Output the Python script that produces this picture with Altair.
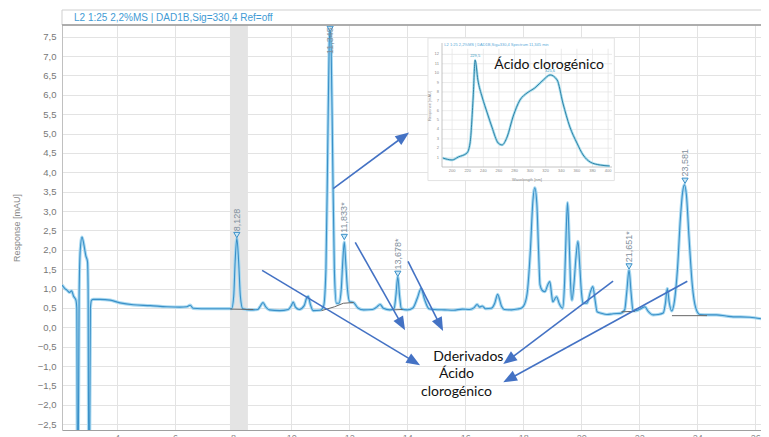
import math
import altair as alt
import pandas as pd

# ---------------- chromatogram trace (time in min, response in mAU) ----------------
time_min = [2.10, 2.20, 2.27, 2.36, 2.43, 2.50, 2.58, 2.61, 2.63, 2.66, 2.69, 2.73, 2.79, 2.85, 2.92,
            2.98, 3.00, 3.02, 3.05, 3.08, 3.12, 3.18, 3.41, 3.76, 4.10, 4.56, 5.14, 5.71, 6.17, 6.40,
            6.52, 6.62, 6.90, 7.32, 7.89, 7.95, 8.02, 8.07, 8.128, 8.19, 8.25, 8.33, 8.60, 8.85, 8.95,
            9.03, 9.12, 9.25, 9.60, 9.90, 10.00, 10.07, 10.15, 10.28, 10.45, 10.53, 10.59, 10.66, 10.76,
            11.00, 11.12, 11.20, 11.26, 11.31, 11.345, 11.38, 11.43, 11.49, 11.56, 11.65, 11.73, 11.78,
            11.833, 11.88, 11.94, 12.02, 12.15, 12.30, 12.50, 12.80, 12.95, 13.07, 13.18, 13.40, 13.55,
            13.61, 13.678, 13.74, 13.80, 14.00, 14.20, 14.35, 14.48, 14.60, 14.75, 14.95, 15.30, 15.60,
            15.90, 16.15, 16.30, 16.41, 16.50, 16.59, 16.70, 16.90, 17.02, 17.12, 17.25, 17.35, 17.60,
            17.80, 17.95, 18.05, 18.15, 18.25, 18.33, 18.40, 18.47, 18.53, 18.58, 18.66, 18.75, 18.85,
            18.92, 18.98, 19.02, 19.15, 19.25, 19.36, 19.43, 19.48, 19.53, 19.58, 19.63, 19.68, 19.75,
            19.82, 19.89, 19.95, 20.01, 20.06, 20.20, 20.32, 20.40, 20.48, 20.55, 20.70, 20.89, 21.10,
            21.35, 21.50, 21.57, 21.651, 21.72, 21.79, 21.95, 22.10, 22.20, 22.30, 22.48, 22.65, 22.83,
            22.90, 22.97, 23.04, 23.12, 23.22, 23.32, 23.42, 23.50, 23.56, 23.63, 23.72, 23.83, 23.95,
            24.09, 24.40, 24.67, 25.00, 25.24, 25.50, 25.82, 26.20]
response_mau = [1.09, 1.00, 0.96, 0.90, 0.94, 0.80, 0.70, 0.50, -3.30, -3.30, 0.80, 2.00, 2.33, 2.15, 1.85,
                1.69, 1.00, -3.30, -3.30, 0.50, 0.70, 0.72, 0.72, 0.70, 0.63, 0.58, 0.56, 0.53, 0.52, 0.53,
                0.57, 0.49, 0.48, 0.48, 0.48, 0.48, 0.80, 1.70, 2.30, 1.70, 0.80, 0.48, 0.45, 0.46, 0.56,
                0.64, 0.53, 0.45, 0.43, 0.46, 0.55, 0.65, 0.52, 0.46, 0.56, 0.75, 0.80, 0.60, 0.43,
                0.44, 0.55, 1.50, 4.50, 7.20, 7.75, 7.20, 4.50, 1.50, 0.62, 0.62, 1.00, 1.70,
                2.20, 1.70, 1.00, 0.66, 0.64, 0.50, 0.45, 0.46, 0.52, 0.59, 0.49, 0.45, 0.48,
                0.80, 1.30, 0.80, 0.48, 0.45, 0.50, 0.75, 1.00, 0.72, 0.48, 0.46, 0.45, 0.44,
                0.47, 0.46, 0.50, 0.59, 0.52, 0.55, 0.48, 0.49, 0.62, 0.85, 0.55, 0.46, 0.45,
                0.47, 0.50, 0.60, 0.95, 2.00, 3.20, 3.60, 3.20, 2.00, 1.10, 0.95, 0.92, 1.10,
                1.18, 0.85, 0.66, 0.79, 0.60, 0.49, 1.20, 2.40, 3.22, 2.40, 1.20, 0.70, 1.10,
                1.80, 2.22, 1.60, 0.90, 0.62, 0.62, 0.92, 1.05, 0.70, 0.40, 0.36, 0.33, 0.35,
                0.36, 0.45, 0.90, 1.48, 0.90, 0.42, 0.44, 0.50, 0.53, 0.42, 0.32, 0.33, 0.37,
                0.60, 1.00, 0.62, 0.42, 0.70, 1.50, 2.80, 3.50, 3.68, 3.40, 2.30, 1.10, 0.50,
                0.33, 0.32, 0.32, 0.29, 0.27, 0.27, 0.26, 0.22]

# labelled peaks
peak_rt = [8.128, 11.345, 11.833, 13.678, 21.651, 23.581]
peak_text = ["8,128", "11,345", "11,833*", "13,678*", "21,651*", "23,581"]
peak_marker = [2.38, 7.70, 2.33, 1.38, 1.57, 3.78]
peak_text_at = [2.48, 7.05, 2.44, 1.49, 1.68, 3.89]

# integration baselines
base_id = [1, 1, 2, 2, 2, 2, 3, 3, 4, 4, 5, 5]
base_t = [7.90, 8.70, 11.05, 11.50, 11.80, 12.15, 13.55, 13.85, 21.39, 21.85, 23.13, 24.34]
base_r = [0.47, 0.46, 0.43, 0.53, 0.62, 0.64, 0.45, 0.46, 0.40, 0.41, 0.30, 0.30]

# highlighted time window
band_from = [7.89]
band_to = [8.51]

# annotation arrows (start -> tip)
arrow_t0 = [11.45, 9.00, 12.21, 14.03, 21.10, 23.66]
arrow_r0 = [3.58, 1.47, 2.19, 1.70, 1.19, 1.19]
arrow_t1 = [14.07, 14.45, 13.93, 15.24, 17.31, 17.31]
arrow_r1 = [5.03, -0.98, -0.08, -0.10, -0.95, -1.42]

note_text = ["Dderivados", "Ácido", "clorogénico"]
note_t = [16.11, 15.70, 15.70]
note_r = [-0.77, -1.21, -1.67]

header_text = "L2 1:25 2,2%MS | DAD1B,Sig=330,4  Ref=off"

x_ticks = [4, 6, 8, 10, 12, 14, 16, 18, 20, 22, 24, 26]
y_ticks = [-2.5, -2.0, -1.5, -1.0, -0.5, 0.0, 0.5, 1.0, 1.5, 2.0, 2.5, 3.0, 3.5, 4.0, 4.5, 5.0,
           5.5, 6.0, 6.5, 7.0, 7.5]

# ---------------- inset: UV spectrum ----------------
wl_nm = [188, 200, 208, 219, 223, 227, 229.5, 233, 238.5, 245, 251, 259, 264, 270.5, 278, 287,
         296, 306, 317, 325.6, 334.6, 342, 351, 360, 368, 377, 390, 402]
absorb = [0.96, 0.75, 1.07, 1.49, 2.56, 7.46, 11.40, 9.28, 7.46, 5.76, 4.26, 2.56, 2.35, 3.20, 5.33,
          7.14, 7.89, 8.42, 9.28, 9.81, 9.28, 6.82, 4.26, 2.56, 1.28, 0.53, 0.21, 0.11]
inset_x_ticks = [200, 220, 240, 260, 280, 300, 320, 340, 360, 380, 400]
inset_y_ticks = [1, 2, 3, 4, 5, 6, 7, 8, 9, 10, 11, 12]
inset_title = "Ácido clorogénico"
inset_header = "L2 1:25 2,2%MS | DAD1B,Sig=330,4 Spectrum 11,345 min"
inset_peak_nm = [229.5, 325.6]
inset_peak_a = [11.40, 9.81]
inset_peak_txt = ["229,5", "325,6"]

# ---------------- layout constants ----------------
W, H = 699, 405
T_MIN, T_MAX = 2.1, 26.2
R_MIN, R_MAX = -2.65, 7.8
PX_T = W / (T_MAX - T_MIN)
PX_R = H / (R_MAX - R_MIN)

FONT = "Liberation Sans"
ARROW = "#4472c4"

xs = alt.Scale(domain=[T_MIN, T_MAX], nice=False, zero=False)
ys = alt.Scale(domain=[R_MIN, R_MAX], nice=False, zero=False)

x_axis = alt.Axis(values=x_ticks, grid=True, gridColor="#e3e3e3", ticks=False, labelPadding=3,
                  labelFontSize=9, labelColor="#888", labelFont=FONT, domainColor="#a0a0a0",
                  title=None)
y_axis = alt.Axis(values=y_ticks, grid=True, gridColor="#e3e3e3", ticks=False, labelPadding=6,
                  labelFontSize=9.5, labelColor="#777", labelFont=FONT, domainColor="#c0c0c0",
                  labelExpr="replace(format(datum.value, '.1f'), '.', ',')",
                  title="Response [mAU]", titleX=-41, titleY=H / 2, titleAngle=270,
                  titleFontSize=9, titleFontWeight="normal", titleColor="#888", titleFont=FONT)

X = lambda f: alt.X(f, type="quantitative", scale=xs, axis=x_axis)
Y = lambda f: alt.Y(f, type="quantitative", scale=ys, axis=y_axis)

trace = pd.DataFrame({"t": time_min, "r": response_mau})
peaks = pd.DataFrame({"t": peak_rt, "m": peak_marker, "lab": peak_text, "ly": peak_text_at})
base = pd.DataFrame({"g": base_id, "t": base_t, "r": base_r})
band = pd.DataFrame({"t0": band_from, "t1": band_to})
notes = pd.DataFrame({"txt": note_text, "t": note_t, "r": note_r})

rows = []
for a, b, c, d in zip(arrow_t0, arrow_r0, arrow_t1, arrow_r1):
    dx = (c - a) * PX_T
    dy = -(d - b) * PX_R
    L = math.hypot(dx, dy)
    ux, uy = dx / L, dy / L
    tc = c - 7 * ux / PX_T
    rc = d + 7 * uy / PX_R
    ang = math.degrees(math.atan2(ux, -uy)) % 360
    rows.append({"t0": a, "r0": b, "tc": tc, "rc": rc, "ang": ang})
arrows = pd.DataFrame(rows)

band_layer = alt.Chart(band).mark_rect(color="#e4e4e4").encode(x=X("t0"), x2="t1",
                                                                y=alt.value(0), y2=alt.value(H))
halo = alt.Chart(trace).mark_line(color="#a9d9f1", strokeWidth=3.2, interpolate="monotone",
                                  clip=True).encode(x=X("t"), y=Y("r"))
core = alt.Chart(trace).mark_line(color="#3a90c8", strokeWidth=1.1, interpolate="monotone",
                                  clip=True).encode(x=X("t"), y=Y("r"))
base_layer = alt.Chart(base).mark_line(color="#666666", strokeWidth=1).encode(
    x=X("t"), y=Y("r"), detail="g:N")
markers = alt.Chart(peaks).mark_point(shape="triangle-down", filled=True, size=38, fill="#cbe8f7",
                                      stroke="#3a90c8", strokeWidth=1, opacity=1).encode(
    x=X("t"), y=Y("m"))
labels = alt.Chart(peaks).mark_text(angle=270, align="left", baseline="middle", fontSize=9,
                                    font=FONT, color="#7f8f9c").encode(
    x=X("t"), y=Y("ly"), text="lab:N")
arrow_lines = alt.Chart(arrows).mark_rule(color=ARROW, strokeWidth=1.6).encode(
    x=X("t0"), y=Y("r0"), x2="tc", y2="rc")
arrow_heads = alt.Chart(arrows).mark_point(shape="M0,-1L0.8,1L-0.8,1Z", filled=True, size=190,
                                           color=ARROW, opacity=1).encode(
    x=X("tc"), y=Y("rc"), angle=alt.Angle("ang:Q", scale=None))
note_layer = alt.Chart(notes).mark_text(font="Lato", fontSize=14, color="#111111",
                                        align="center", baseline="middle").encode(
    x=X("t"), y=Y("r"), text="txt:N")

hdr_df = pd.DataFrame({"txt": [header_text]})
header_box = alt.Chart(hdr_df).mark_rect(fill="white", stroke="#cfcfcf", strokeWidth=1).encode(
    x=alt.value(0), x2=alt.value(W + 5), y=alt.value(-15), y2=alt.value(0))
header_txt = alt.Chart(hdr_df).mark_text(align="left", baseline="middle", fontSize=10, font=FONT,
                                         color="#3f9bd5").encode(
    x=alt.value(12), y=alt.value(-7.5), text="txt:N")
top_line = alt.Chart(hdr_df).mark_rule(color="#9a9a9a", strokeWidth=1.5).encode(
    x=alt.value(0), x2=alt.value(W + 5), y=alt.value(0))

main = alt.layer(band_layer, halo, core, base_layer, markers, labels, arrow_lines, arrow_heads,
                 note_layer, header_box, header_txt, top_line)

# ---------------- inset layers (own scales) ----------------
ixs = alt.Scale(domain=[187, 405], range=[380, 550], nice=False, zero=False)
iys = alt.Scale(domain=[0, 13], range=[142, 20], nice=False, zero=False)
IX = lambda f: alt.X(f, type="quantitative", scale=ixs, axis=None)
IY = lambda f: alt.Y(f, type="quantitative", scale=iys, axis=None)

spec = pd.DataFrame({"nm": wl_nm, "a": absorb})
box = pd.DataFrame({"x0": [169], "x1": [408], "y0": [-1.45], "y1": [13.75]})
vgrid = pd.DataFrame({"nm": inset_x_ticks, "a0": [0] * len(inset_x_ticks),
                      "a1": [12.6] * len(inset_x_ticks), "lab": [str(v) for v in inset_x_ticks]})
hgrid = pd.DataFrame({"a": inset_y_ticks, "n0": [187] * len(inset_y_ticks),
                      "n1": [405] * len(inset_y_ticks), "lab": [str(v) for v in inset_y_ticks]})
ititle = pd.DataFrame({"txt": [inset_title], "nm": [324.4], "a": [10.85]})
ihead = pd.DataFrame({"txt": [inset_header], "nm": [190], "a": [13.05]})
ipk = pd.DataFrame({"nm": inset_peak_nm, "a": inset_peak_a, "txt": inset_peak_txt})
iax_title = pd.DataFrame({"txt": ["Response [mAU]"], "nm": [171.5], "a": [6.5]})
ix_title = pd.DataFrame({"txt": ["Wavelength [nm]"], "nm": [296], "a": [-1.15]})

i_bg = alt.Chart(box).mark_rect(fill="white", stroke="#e2e2e2", strokeWidth=1).encode(
    x=IX("x0"), x2="x1", y=IY("y0"), y2="y1")
i_vg = alt.Chart(vgrid).mark_rule(color="#e6e6e6", strokeWidth=0.8).encode(
    x=IX("nm"), y=IY("a0"), y2="a1")
i_hg = alt.Chart(hgrid).mark_rule(color="#e6e6e6", strokeWidth=0.8).encode(
    y=IY("a"), x=IX("n0"), x2="n1")
i_xlab = alt.Chart(vgrid).mark_text(fontSize=4, color="#8a8a8a", baseline="top", dy=2).encode(
    x=IX("nm"), y=IY("a0"), text="lab:N")
i_ylab = alt.Chart(hgrid).mark_text(fontSize=4, color="#8a8a8a", align="right", dx=-3).encode(
    x=IX("n0"), y=IY("a"), text="lab:N")
i_frame_l = alt.Chart(box).mark_rule(color="#b5b5b5", strokeWidth=0.8).encode(
    x=alt.value(380), y=alt.value(18), y2=alt.value(142))
i_frame_b = alt.Chart(box).mark_rule(color="#b5b5b5", strokeWidth=0.8).encode(
    x=alt.value(380), x2=alt.value(550), y=alt.value(142))
i_halo = alt.Chart(spec).mark_line(color="#a6dcec", strokeWidth=2.6,
                                   interpolate="monotone").encode(x=IX("nm"), y=IY("a"))
i_curve = alt.Chart(spec).mark_line(color="#2f83a8", strokeWidth=1.0,
                                    interpolate="monotone").encode(x=IX("nm"), y=IY("a"))
i_pk = alt.Chart(ipk).mark_text(fontSize=4, color="#3a9cc6", dy=-4).encode(
    x=IX("nm"), y=IY("a"), text="txt:N")
i_head = alt.Chart(ihead).mark_text(fontSize=4, color="#5aa9d8", align="left").encode(
    x=IX("nm"), y=IY("a"), text="txt:N")
i_ytitle = alt.Chart(iax_title).mark_text(fontSize=4, color="#8a8a8a", angle=270).encode(
    x=IX("nm"), y=IY("a"), text="txt:N")
i_xtitle = alt.Chart(ix_title).mark_text(fontSize=4, color="#8a8a8a", baseline="top").encode(
    x=IX("nm"), y=IY("a"), text="txt:N")
i_title = alt.Chart(ititle).mark_text(font="Lato", fontSize=14, color="#111111",
                                      baseline="middle").encode(
    x=IX("nm"), y=IY("a"), text="txt:N")

inset = alt.layer(i_bg, i_vg, i_hg, i_frame_l, i_frame_b, i_xlab, i_ylab, i_halo, i_curve, i_pk,
                  i_head, i_ytitle, i_xtitle, i_title)

chart = alt.layer(main, inset).resolve_scale(x="independent", y="independent").properties(
    width=W, height=H,
    autosize=alt.AutoSizeParams(type="none"),
    padding={"left": 54, "top": 17, "right": 0, "bottom": 12},
    background="white",
).configure_view(stroke=None)

chart.save("out.html", embed_options={"renderer": "svg", "actions": False})
